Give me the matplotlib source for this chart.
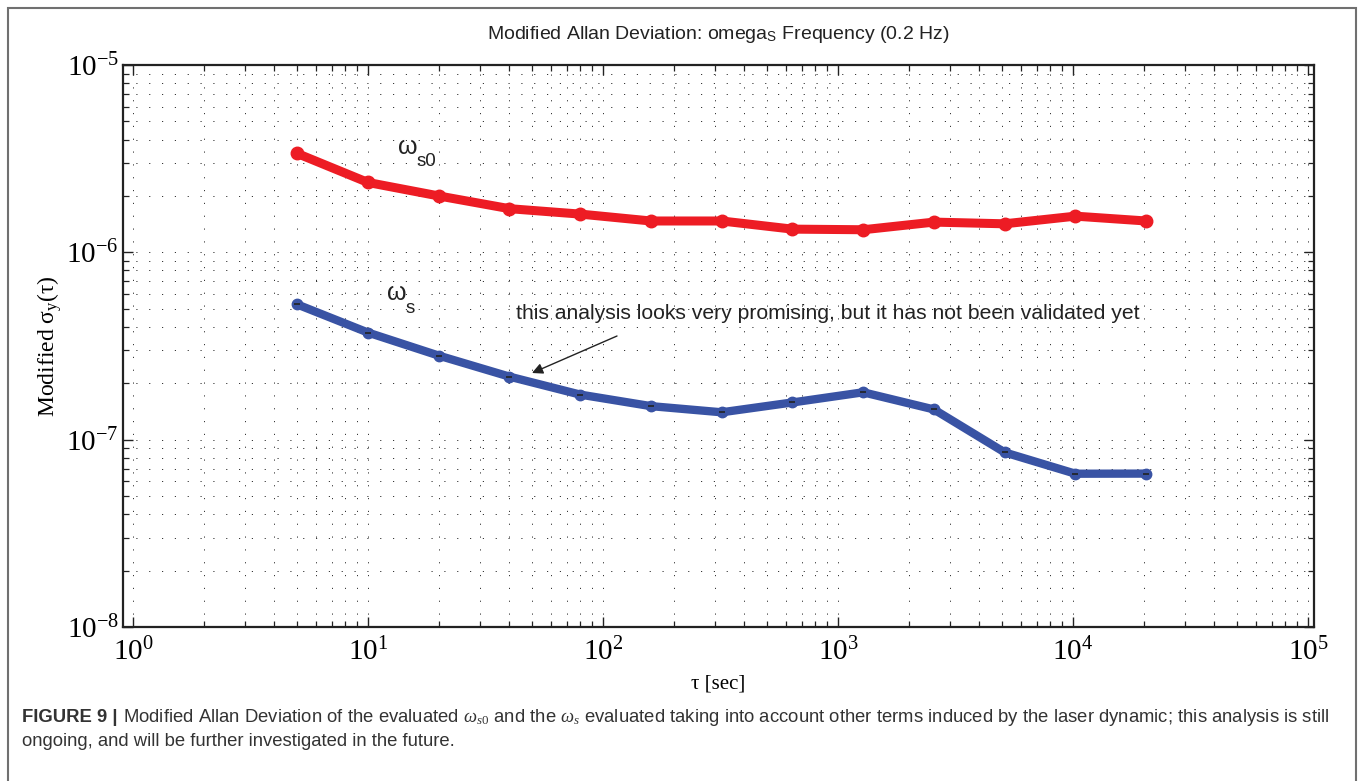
import matplotlib
matplotlib.use("Agg")
import matplotlib.pyplot as plt
from matplotlib.ticker import LogLocator, NullFormatter, FixedLocator
from matplotlib.patches import Rectangle

plt.rcParams['mathtext.fontset'] = 'custom'
plt.rcParams['mathtext.rm'] = 'Liberation Serif'
plt.rcParams['mathtext.it'] = 'Liberation Serif:italic'
plt.rcParams['mathtext.sf'] = 'Liberation Sans'
plt.rcParams['font.family'] = ['Liberation Sans', 'DejaVu Sans']

# ---- data ----
tau = [5, 10, 20, 40, 80, 160, 320, 640, 1280, 2560, 5120, 10240, 20480]
omega_s0 = [3.37e-6, 2.36e-6, 2.00e-6, 1.71e-6, 1.60e-6, 1.47e-6, 1.47e-6,
            1.33e-6, 1.32e-6, 1.45e-6, 1.42e-6, 1.56e-6, 1.47e-6]
omega_s = [5.27e-7, 3.73e-7, 2.81e-7, 2.17e-7, 1.74e-7, 1.51e-7, 1.40e-7,
           1.58e-7, 1.79e-7, 1.45e-7, 8.55e-8, 6.58e-8, 6.59e-8]
xticks = [1e0, 1e1, 1e2, 1e3, 1e4, 1e5]
xticklabels = [r'$10^{0}$', r'$10^{1}$', r'$10^{2}$', r'$10^{3}$', r'$10^{4}$', r'$10^{5}$']
yticks = [1e-8, 1e-7, 1e-6, 1e-5]
yticklabels = [r'$10^{-8}$', r'$10^{-7}$', r'$10^{-6}$', r'$10^{-5}$']

W, H = 1358, 781
fig = plt.figure(figsize=(W / 100, H / 100), dpi=100)

# outer frame
fig.patches.append(Rectangle((8 / W, -0.05), (1356 - 8) / W, 1.05 - 8 / H,
                             transform=fig.transFigure, fill=False,
                             edgecolor='#707070', linewidth=1.5))

L, R, T, B = 123, 1314, 65, 627
ax = fig.add_axes([L / W, 1 - B / H, (R - L) / W, (B - T) / H])
ax.set_xscale('log')
ax.set_yscale('log')
ax.set_xlim(10 ** (-10 / 235), 10 ** (5 + 6 / 235))
ax.set_ylim(1e-8, 1e-5)

ax.plot(tau, omega_s0, color='#ED1C24', lw=6.5, marker='o', ms=9,
        solid_capstyle='round', solid_joinstyle='round', zorder=3)
ax.plot(tau, omega_s, color='#3953A4', lw=6.0, marker='o', ms=7.5,
        solid_capstyle='round', solid_joinstyle='round', zorder=3)
ax.plot(tau, omega_s, ls='none', marker='_', ms=4, mew=1.2, color='#222222', zorder=4)

ax.xaxis.set_major_locator(FixedLocator(xticks))
ax.set_xticklabels(xticklabels)
ax.yaxis.set_major_locator(FixedLocator(yticks))
ax.set_yticklabels(yticklabels)
ax.xaxis.set_minor_locator(LogLocator(base=10, subs=range(2, 10), numticks=20))
ax.yaxis.set_minor_locator(LogLocator(base=10, subs=range(2, 10), numticks=20))
ax.xaxis.set_minor_formatter(NullFormatter())
ax.yaxis.set_minor_formatter(NullFormatter())

ax.tick_params(which='both', direction='in', top=True, right=True, color='#222222')
ax.tick_params(which='major', length=7.5, width=1.0, labelsize=21)
ax.tick_params(which='minor', length=4.5, width=0.9)
ax.tick_params(axis='x', which='major', pad=8)
ax.tick_params(axis='y', which='major', pad=3)
for s in ax.spines.values():
    s.set_linewidth(1.6)
    s.set_color('#222222')

ax.grid(True, which='both', color='#333333', lw=0.7, ls=(0, (1.2, 12)))
ax.set_axisbelow(True)

ax.set_title(r'Modified Allan Deviation: omega$_\mathsf{S}$ Frequency (0.2 Hz)',
             fontsize=14, color='#222222', pad=19)
ax.set_xlabel('τ [sec]', fontsize=15, family='Liberation Serif', labelpad=6)
ax.set_ylabel(r'Modified $\mathrm{σ_{y}(τ)}$', fontsize=17, family='Liberation Serif', labelpad=2)

# curve labels: omega + subscript
lab_col = '#222222'
fig.text(398 / W, 1 - 154 / H, 'ω', fontsize=18, color=lab_col, va='baseline',
         family='Liberation Sans')
fig.text(417 / W, 1 - 166 / H, 's0', fontsize=13.5, color=lab_col, va='baseline',
         family='Liberation Sans')
fig.text(387 / W, 1 - 300 / H, 'ω', fontsize=18, color=lab_col, va='baseline',
         family='Liberation Sans')
fig.text(406 / W, 1 - 313 / H, 's', fontsize=13.5, color=lab_col, va='baseline',
         family='Liberation Sans')

ax.annotate('this analysis looks very promising, but it has not been validated yet',
            xy=(516, H - 319), xycoords='figure pixels', fontsize=15.2,
            color='#222222', va='baseline')
ax.annotate('', xy=(532, H - 373), xycoords='figure pixels',
            xytext=(617, H - 336), textcoords='figure pixels',
            arrowprops=dict(arrowstyle='-|>', color='#222222', lw=1.0,
                            mutation_scale=16, shrinkA=0, shrinkB=0))

# caption
fig.canvas.draw()
r = fig.canvas.get_renderer()
cap_col = '#333333'
cap_fs = 13.3
t1 = fig.text(22 / W, 1 - 722 / H, 'FIGURE 9 | ', fontsize=cap_fs, weight='bold',
              color=cap_col, va='baseline')
bb = t1.get_window_extent(renderer=r)
fig.text(bb.x1 / W, 1 - 722 / H,
         r'Modified Allan Deviation of the evaluated $\omega_{s0}$ and the $\omega_{s}$ evaluated taking into account other terms induced by the laser dynamic; this analysis is still',
         fontsize=cap_fs, color=cap_col, va='baseline')
fig.text(22 / W, 1 - 746 / H,
         'ongoing, and will be further investigated in the future.',
         fontsize=cap_fs, color=cap_col, va='baseline')

fig.savefig('out.png', dpi=100)
